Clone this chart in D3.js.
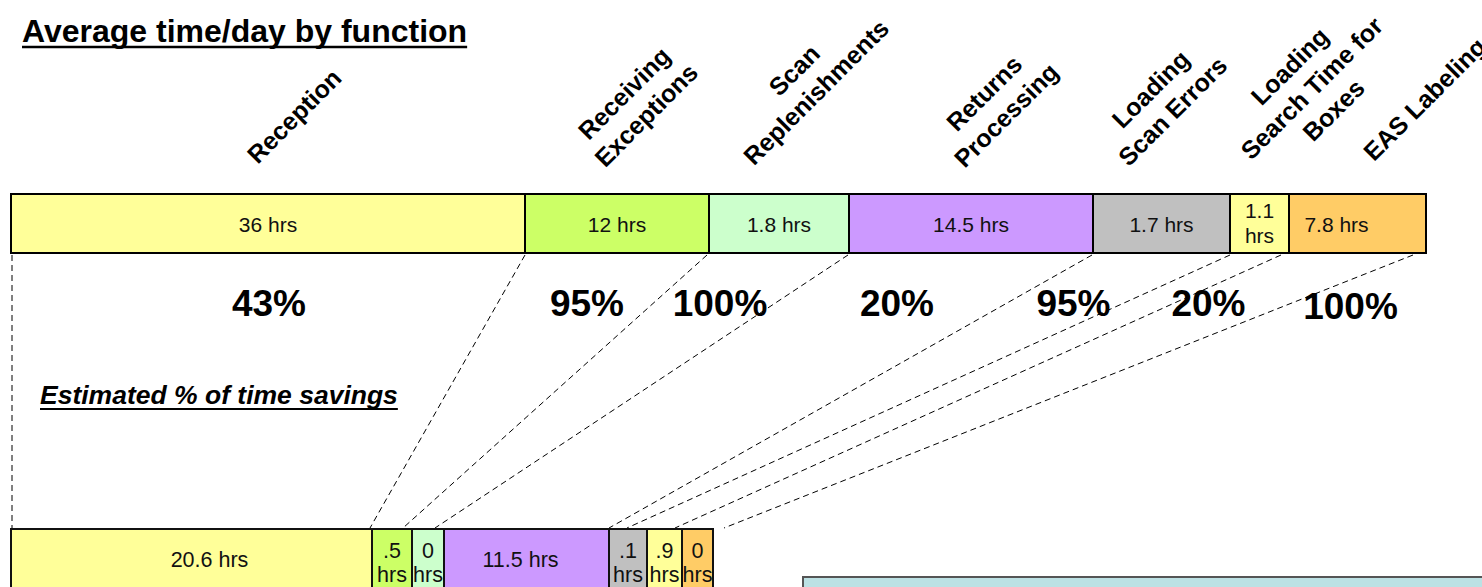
<!DOCTYPE html>
<html>
<head>
<meta charset="utf-8">
<script src="https://cdn.jsdelivr.net/npm/d3@7"></script>
<style>
  body { margin: 0; background: #fff; }
  svg { display: block; font-family: "Liberation Sans", Arial, sans-serif; }
</style>
</head>
<body>
<script>
const width = 1482;
const height = 587;

// data
const categories = ["Reception", "Receiving Exceptions", "Scan Replenishments", "Returns Processing",
                    "Loading Scan Errors", "Loading Search Time for Boxes", "EAS Labeling"];
const labelLines = [["Reception"], ["Receiving", "Exceptions"], ["Scan", "Replenishments"],
                    ["Returns", "Processing"], ["Loading", "Scan Errors"],
                    ["Loading", "Search Time for", "Boxes"], ["EAS Labeling"]];
const currentHours = [36, 12, 1.8, 14.5, 1.7, 1.1, 7.8];
const savingsPct = [43, 95, 100, 20, 95, 20, 100];
const futureHours = [20.6, 0.5, 0, 11.5, 0.1, 0.9, 0];
const colors = ["#FFFF99", "#CCFF66", "#CCFFCC", "#CC99FF", "#C0C0C0", "#FFFF99", "#FFCC66"];

// layout (diagram is not drawn to scale, so segment spans are set by hand)
const topSpan = [514, 184, 140, 244, 137, 59, 137];
const bottomSpan = [361, 40, 32, 165, 38, 35, 31];
const labelShift = [[26, 116], [18, 104], [26, 81], [24, 104], [0, 100], [52, 88], [67, 99]];
const pctShift = [1, -30, -59, -74, -88, -51, -7];
const pctY = [316, 316, 316, 316, 316, 316, 319];
const topTextShift = [0, 0, 0, 0, 0, 0, -21];
const botTextShift = [18, 0, 0, -6, 0, 0, 0];
const connTop = [0, -2, -1, -1, 0, -8, -13];
const connBottom = [-2, -9, -9, 0, -20, -7, 11];

const color = d3.scaleOrdinal(categories, colors);
const fmt = d => d === 0 ? "0" : String(d).replace(/^0\./, ".");

const svg = d3.select('body')
    .append('svg')
    .attr('width', width)
    .attr('height', height);

function segments(values, spans, x0, x1) {
    const x = d3.scaleLinear().domain([0, d3.sum(spans)]).range([x0, x1]);
    const ends = d3.cumsum(spans);
    return categories.map((c, i) => ({
        cat: c, value: values[i],
        x0: x(ends[i] - spans[i]), x1: x(ends[i])
    }));
}

const topSegs = segments(currentHours, topSpan, 11, 1426);
const botSegs = segments(futureHours, bottomSpan, 11, 713);

// title
const title = svg.append('text')
    .attr('x', 22).attr('y', 42)
    .attr('font-size', 32).attr('font-weight', 'bold')
    .text('Average time/day by function');
const tw = title.node().getComputedTextLength();
svg.append('line').attr('x1', 22).attr('x2', 22 + tw).attr('y1', 47).attr('y2', 47)
    .attr('stroke', '#000').attr('stroke-width', 2.5);

// rotated category labels
const lh = 31;
const lab = svg.append('g').selectAll('g')
    .data(topSegs)
    .enter().append('g')
    .attr('transform', (d, i) => `translate(${(d.x0 + d.x1) / 2 + labelShift[i][0]},${labelShift[i][1]}) rotate(-45)`);
lab.append('text')
    .attr('text-anchor', 'middle')
    .attr('font-size', 25).attr('font-weight', 'bold')
    .each(function (d, i) {
        const lines = labelLines[i];
        const t = d3.select(this);
        lines.forEach((s, j) => {
            t.append('tspan').attr('x', 0)
                .attr('y', (j - (lines.length - 1) / 2) * lh + 9)
                .text(s);
        });
    });

// connectors
const conn = svg.append('g')
    .attr('stroke', '#000').attr('stroke-width', 1).attr('stroke-dasharray', '6,4').attr('fill', 'none');
conn.append('line')
    .attr('x1', topSegs[0].x0 + 1).attr('x2', botSegs[0].x0 + 1)
    .attr('y1', 255).attr('y2', 529);
conn.selectAll('line.c')
    .data(topSegs)
    .enter().append('line').attr('class', 'c')
    .attr('x1', (d, i) => d.x1 + connTop[i])
    .attr('y1', 255)
    .attr('x2', (d, i) => botSegs[i].x1 + connBottom[i])
    .attr('y2', 528);

// bars
function drawBar(segs, y, h, fs, singleBase, twoBase, wrapBelow, strokeCol, shift) {
    const g = svg.append('g');
    g.selectAll('rect')
        .data(segs)
        .enter().append('rect')
        .attr('x', d => d.x0).attr('y', y)
        .attr('width', d => d.x1 - d.x0).attr('height', h)
        .attr('fill', d => color(d.cat))
        .attr('stroke', strokeCol).attr('stroke-width', 2);
    g.selectAll('text')
        .data(segs)
        .enter().append('text')
        .attr('text-anchor', 'middle')
        .attr('font-size', fs)
        .attr('fill', '#111')
        .each(function (d, i) {
            const t = d3.select(this);
            const cx = (d.x0 + d.x1) / 2 + shift[i];
            if (d.x1 - d.x0 < wrapBelow) {
                t.append('tspan').attr('x', cx).attr('y', twoBase[0]).text(fmt(d.value));
                t.append('tspan').attr('x', cx).attr('y', twoBase[1]).text('hrs');
            } else {
                t.append('tspan').attr('x', cx).attr('y', singleBase).text(fmt(d.value) + ' hrs');
            }
        });
}

drawBar(topSegs, 194, 59, 21, 232, [218, 243], 70, '#000', topTextShift);
drawBar(botSegs, 529, 75, 21.5, 567, [558, 582], 60, '#111', botTextShift);

// percent savings
svg.append('g').selectAll('text')
    .data(topSegs)
    .enter().append('text')
    .attr('x', (d, i) => (d.x0 + d.x1) / 2 + pctShift[i])
    .attr('y', (d, i) => pctY[i])
    .attr('text-anchor', 'middle')
    .attr('font-size', 37).attr('font-weight', 'bold')
    .text((d, i) => savingsPct[i] + '%');

// subtitle
const sub = svg.append('text')
    .attr('x', 40).attr('y', 404)
    .attr('font-size', 26.5).attr('font-weight', 'bold').attr('font-style', 'italic')
    .text('Estimated % of time savings');
const sw = sub.node().getComputedTextLength();
svg.append('line').attr('x1', 40).attr('x2', 40 + sw).attr('y1', 409).attr('y2', 409)
    .attr('stroke', '#000').attr('stroke-width', 2);

// note box at bottom right
svg.append('rect')
    .attr('x', 803).attr('y', 577).attr('width', 700).attr('height', 40)
    .attr('fill', '#BCE1E4').attr('stroke', '#555').attr('stroke-width', 2);
</script>
</body>
</html>
